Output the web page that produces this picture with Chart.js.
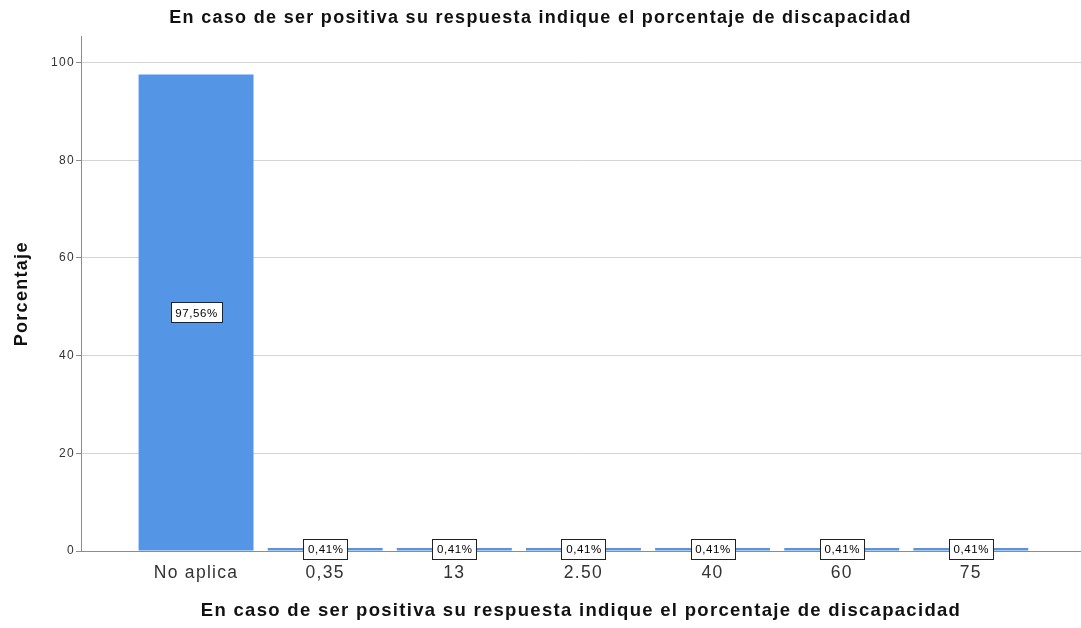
<!DOCTYPE html>
<html>
<head>
<meta charset="utf-8">
<script src="https://cdn.jsdelivr.net/npm/chart.js@4/dist/chart.umd.min.js"></script>
<style>
  html, body { margin: 0; padding: 0; background: #fff; }
  #wrap { width: 1081px; height: 628px; }
</style>
</head>
<body>
<div id="wrap"><canvas id="chart"></canvas></div>
<script>
const categories = ['No aplica', '0,35', '13', '2.50', '40', '60', '75'];
const percentages = [97.56, 0.41, 0.41, 0.41, 0.41, 0.41, 0.41];
const yTicks = [0, 20, 40, 60, 80, 100];
const chartTitle = 'En caso de ser positiva su respuesta indique el porcentaje de discapacidad';

const fontFamily = '"Liberation Sans", Arial, sans-serif';

// the reference text is drawn wide, so space the letters out a bit
const wideText = {
  id: 'wideText',
  beforeDraw(chart) {
    chart.ctx.letterSpacing = '1.3px';
  }
};

// white boxed value labels in the middle of each bar
const boxLabels = {
  id: 'boxLabels',
  afterDatasetsDraw(chart) {
    const ctx = chart.ctx;
    const meta = chart.getDatasetMeta(0);
    ctx.save();
    ctx.letterSpacing = '0.6px';
    ctx.font = '11.5px ' + fontFamily;
    ctx.textAlign = 'center';
    ctx.textBaseline = 'middle';
    meta.data.forEach((bar, i) => {
      const text = percentages[i].toFixed(2).replace('.', ',') + '%';
      const w = Math.round(ctx.measureText(text).width + 8);
      const h = 20;
      const cy = (bar.y + bar.base) / 2;
      const x0 = Math.round(bar.x - w / 2) + 0.5;
      const y0 = Math.round(cy - h / 2) + 0.5;
      ctx.fillStyle = '#fff';
      ctx.fillRect(x0, y0, w, h);
      ctx.strokeStyle = '#222';
      ctx.lineWidth = 1;
      ctx.strokeRect(x0, y0, w, h);
      ctx.fillStyle = '#000';
      ctx.fillText(text, bar.x + 0.5, cy + 1);
    });
    ctx.restore();
  }
};

new Chart(document.getElementById('chart').getContext('2d'), {
  type: 'bar',
  data: {
    datasets: [{
      data: percentages.map((v, i) => ({ x: i, y: v })),
      backgroundColor: '#5595e5',
      borderColor: '#4a8ad8',
      borderWidth: 0,
      inflateAmount: 0,
      minBarLength: 3,
      barPercentage: 0.89,
      categoryPercentage: 1
    }]
  },
  options: {
    responsive: true,
    maintainAspectRatio: false,
    animation: false,
    layout: { padding: 0 },
    plugins: {
      legend: { display: false },
      tooltip: { enabled: false },
      title: {
        display: true,
        text: chartTitle,
        color: '#111',
        font: { family: fontFamily, size: 18, weight: 'bold' },
        padding: { top: 7, bottom: 8 }
      }
    },
    scales: {
      x: {
        type: 'linear',
        offset: false,
        min: -0.891,
        max: 6.853,
        afterFit(scale) { scale.height = 77; },
        grid: { display: false, drawTicks: false },
        border: { display: true, color: '#8c8c8c', width: 1 },
        ticks: {
          stepSize: 1,
          includeBounds: false,
          autoSkip: false,
          maxRotation: 0,
          padding: 12,
          color: '#333',
          font: { family: fontFamily, size: 17.5 },
          callback: v => (Number.isInteger(v) && categories[v] !== undefined) ? categories[v] : ''
        },
        title: {
          display: true,
          text: chartTitle,
          color: '#111',
          font: { family: fontFamily, size: 18.5, weight: 'bold' },
          padding: { top: 0, bottom: 6 }
        }
      },
      y: {
        min: 0,
        max: 105.3,
        afterFit(scale) { scale.width = 81; },
        afterBuildTicks(scale) { scale.ticks = yTicks.map(v => ({ value: v })); },
        grid: {
          color: '#d4d4d4',
          lineWidth: 1,
          drawTicks: true,
          tickLength: 5,
          tickColor: '#8c8c8c'
        },
        border: { display: true, color: '#8c8c8c', width: 1 },
        ticks: {
          padding: 1,
          color: '#333',
          font: { family: fontFamily, size: 12 }
        },
        title: {
          display: true,
          text: 'Porcentaje',
          color: '#111',
          font: { family: fontFamily, size: 18, weight: 'bold' },
          padding: { top: 11, bottom: 0 }
        }
      }
    }
  },
  plugins: [wideText, boxLabels]
});
</script>
</body>
</html>
